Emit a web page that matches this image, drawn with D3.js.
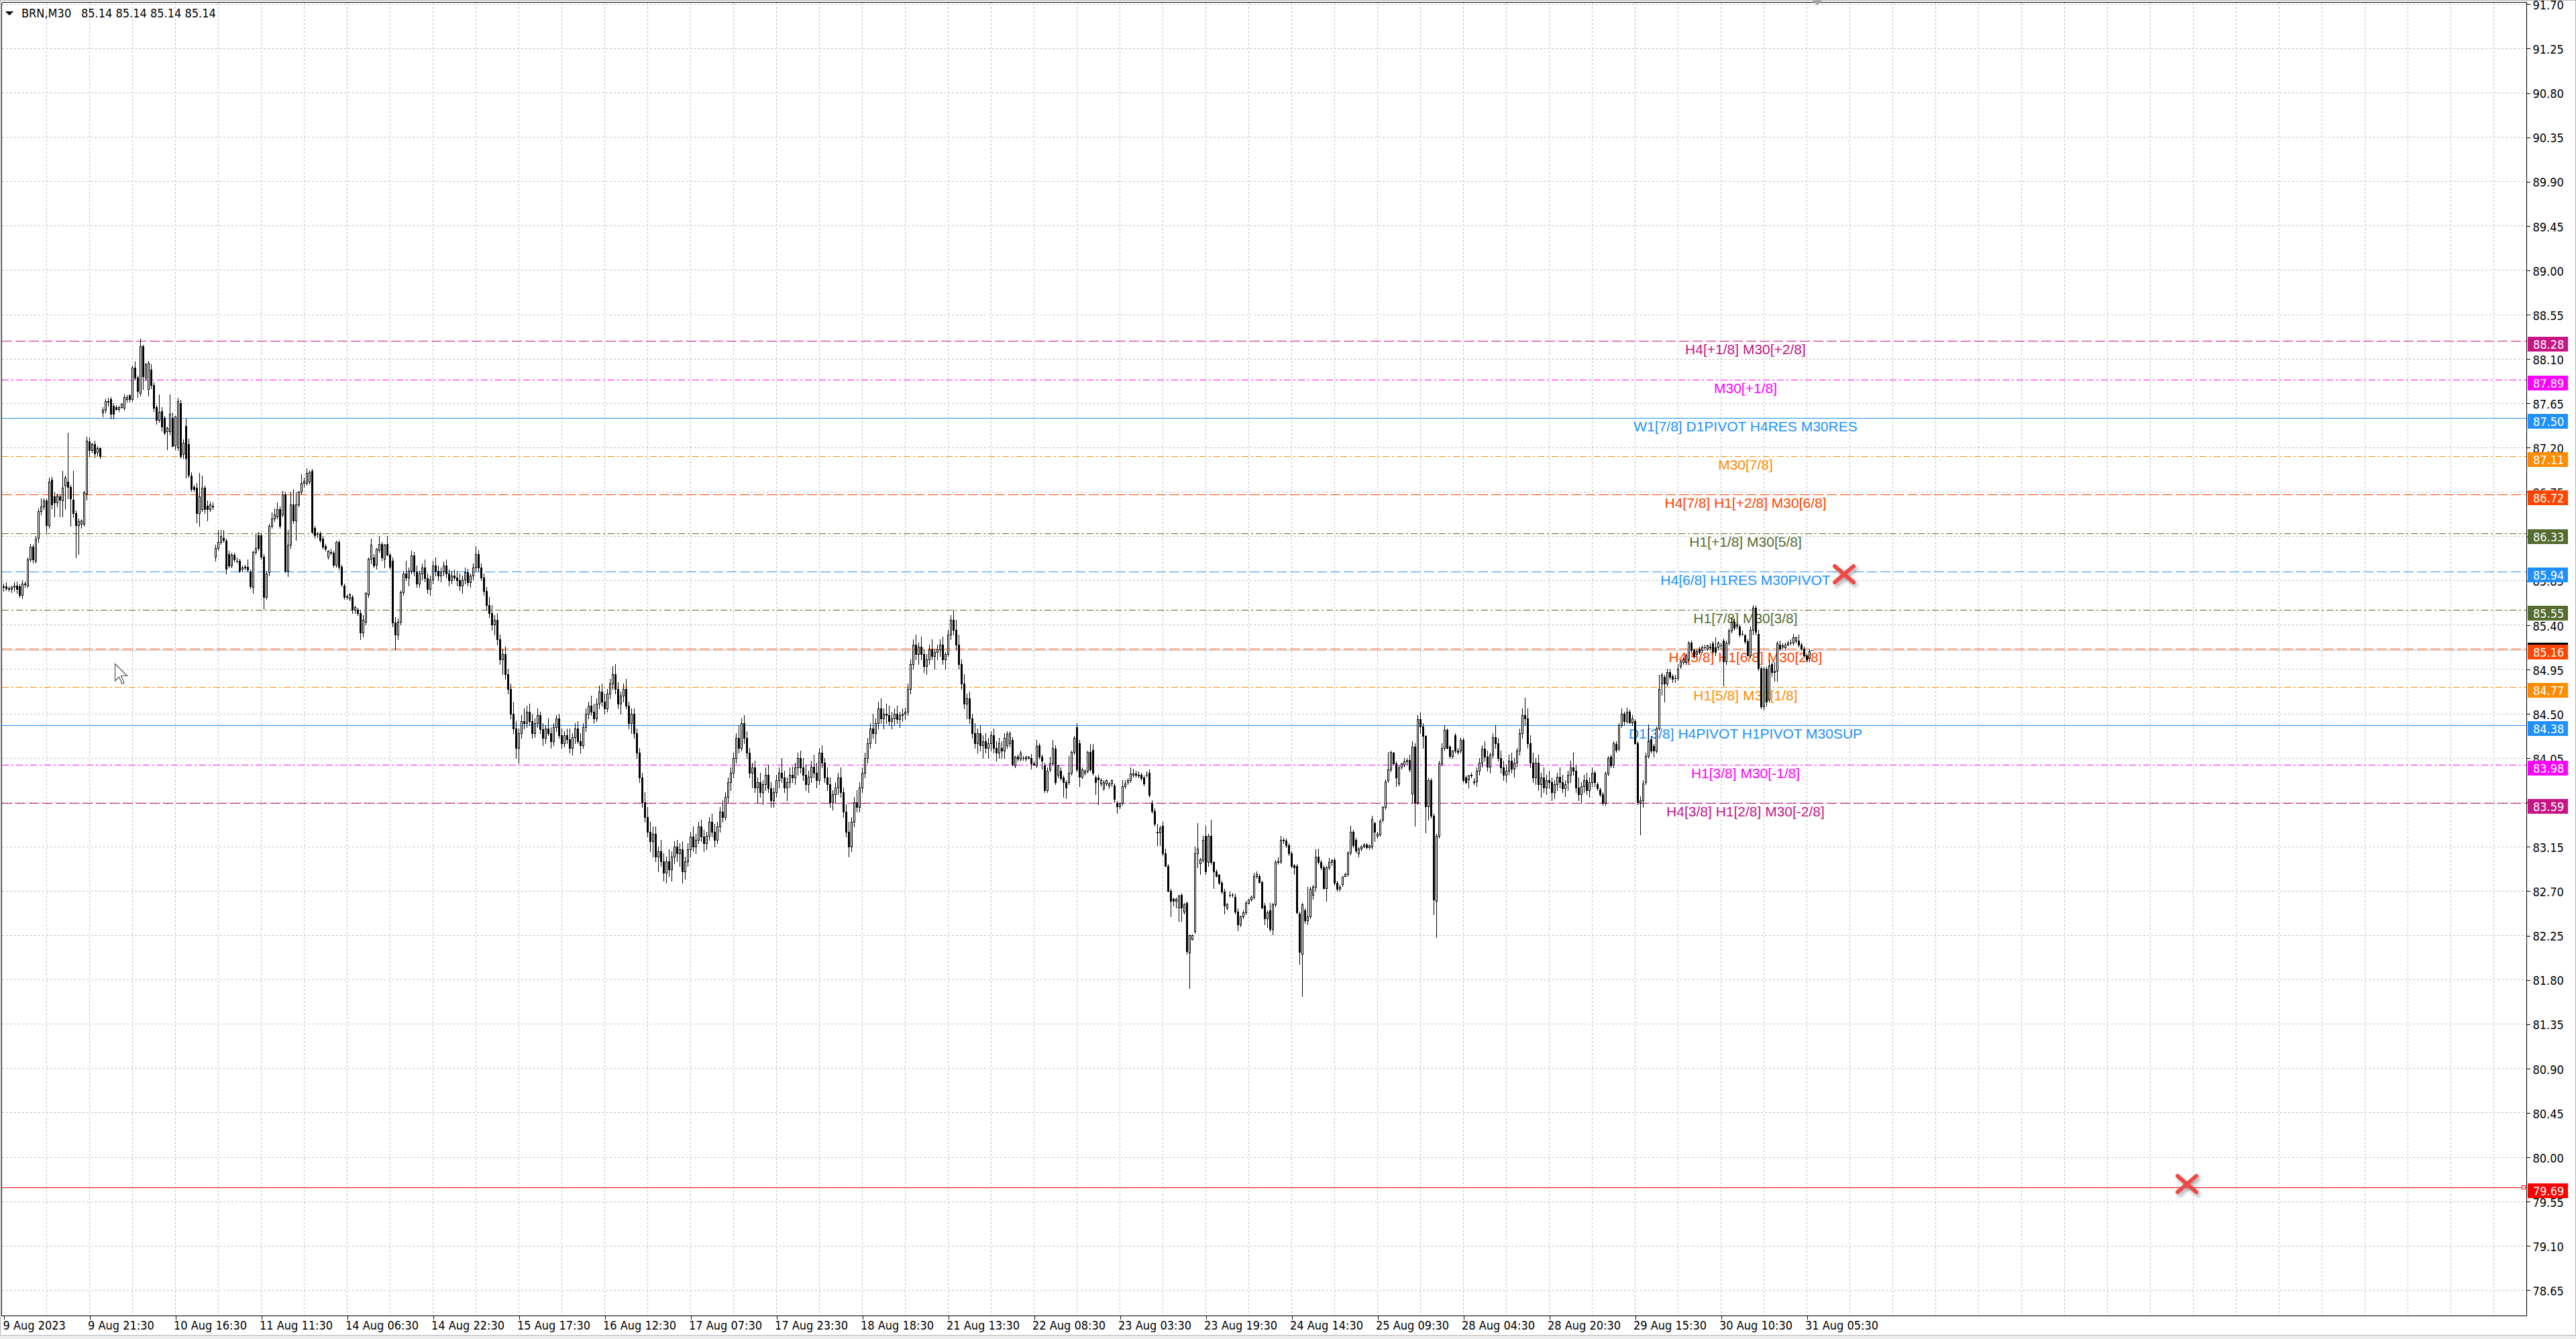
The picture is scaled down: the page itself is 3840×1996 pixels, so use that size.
<!DOCTYPE html>
<html>
<head>
<meta charset="utf-8">
<script src="https://cdn.jsdelivr.net/npm/d3@7/dist/d3.min.js"></script>
<style>
html,body{margin:0;padding:0;background:#ffffff;overflow:hidden;}
svg{display:block;}
.ui{font-family:"DejaVu Sans Condensed","DejaVu Sans",sans-serif;font-stretch:condensed;font-size:18px;}
.lvl{font-family:"Liberation Sans",Arial,sans-serif;font-size:21px;}
</style>
</head>
<body>
<svg id="chart" width="3840" height="1996" xmlns="http://www.w3.org/2000/svg"></svg>
<script>
// ---------------- DATA ----------------
const symbolTitle = "BRN,M30";
const lastQuote = "85.14 85.14 85.14 85.14";
const bidPrice = 85.14;

const opens = [
85.78,85.79,85.77,85.76,85.78,85.80,85.79,85.70,85.82,85.80,86.06,86.19,86.05,86.28,86.55,86.60,86.66,86.41,86.87,86.70,86.64,86.70,86.66,86.81,86.85,86.80,86.67,86.53,86.41,86.42,86.42,86.73,87.26,87.17,87.23,87.15,87.19,
87.55,87.58,87.67,87.69,87.62,87.61,87.59,87.61,87.60,87.69,87.73,87.69,88.01,87.91,87.75,88.23,87.91,87.79,87.99,87.83,87.61,87.48,87.57,87.50,87.36,87.36,87.50,87.22,87.20,87.65,87.13,87.42,87.23,86.91,86.80,86.79,86.53,86.57,86.79,86.61,86.57,86.60,
86.09,86.18,86.24,86.28,86.25,86.12,86.00,86.11,86.05,86.05,85.97,85.98,85.99,85.94,85.78,86.14,86.31,86.31,86.09,85.68,85.93,86.40,86.48,86.50,86.57,86.52,86.72,85.95,86.21,86.62,86.46,86.62,86.75,86.84,86.84,86.85,86.96,86.38,86.32,86.33,86.27,86.20,
86.09,86.14,86.13,86.01,86.24,85.99,85.80,85.68,85.67,85.68,85.55,85.55,85.52,85.32,85.43,85.71,86.07,86.08,86.01,86.16,86.22,86.07,86.22,86.11,86.05,85.42,85.30,85.43,85.73,85.92,85.88,85.95,86.10,85.94,85.82,85.92,85.98,85.87,85.76,85.86,86.00,85.95,85.90,85.94,86.00,85.92,85.85,85.90,
85.88,85.85,85.80,85.86,85.93,85.83,85.90,85.98,86.12,85.98,85.88,85.74,85.60,85.52,85.40,85.45,85.25,85.05,85.10,84.90,84.75,84.50,84.35,84.15,84.30,84.42,84.40,84.52,84.42,84.30,84.40,84.48,84.34,84.25,84.35,84.30,84.22,84.36,84.45,84.28,84.20,84.28,
84.24,84.15,84.26,84.35,84.22,84.18,84.36,84.50,84.58,84.52,84.45,84.60,84.72,84.62,84.55,84.70,84.80,84.90,84.75,84.60,84.68,84.75,84.58,84.40,84.50,84.30,84.10,83.85,83.60,83.45,83.30,83.20,83.28,83.05,83.10,83.00,82.88,83.00,82.92,83.05,83.15,83.08,
83.12,82.90,83.00,83.12,83.25,83.15,83.22,83.35,83.25,83.18,83.26,83.40,83.30,83.22,83.35,83.50,83.45,83.65,83.80,83.90,84.05,84.25,84.15,84.40,84.25,84.10,83.90,83.95,83.75,83.80,83.70,83.78,83.88,83.74,83.62,83.70,83.82,83.90,83.85,83.75,83.80,83.88,
83.85,83.95,84.05,83.95,83.88,83.78,83.86,83.96,83.90,83.82,84.10,84.00,83.85,83.78,83.60,83.68,83.75,83.85,83.70,83.50,83.30,83.15,83.40,83.60,83.55,83.75,83.90,84.05,84.20,84.35,84.30,84.40,84.55,84.45,84.50,84.48,84.42,84.45,84.50,84.44,84.48,84.50,
84.52,84.75,85.00,85.20,85.10,85.18,85.10,84.98,85.05,85.15,85.08,85.12,85.15,85.20,85.05,85.10,85.30,85.45,85.35,85.20,85.00,84.80,84.60,84.65,84.45,84.30,84.20,84.30,84.18,84.22,84.15,84.20,84.28,84.15,84.10,84.15,
84.12,84.18,84.20,84.23,83.97,84.06,84.04,84.05,84.04,84.05,84.05,83.99,83.97,84.18,84.06,83.97,83.72,83.93,83.99,84.14,83.88,83.92,83.85,83.80,83.80,83.90,84.11,84.36,84.20,83.86,83.90,83.92,84.11,84.13,83.85,83.85,83.79,83.74,83.79,83.77,83.79,83.77,
83.59,83.56,83.59,83.76,83.80,83.82,83.88,83.89,83.88,83.88,83.85,83.88,83.90,83.59,83.51,83.30,83.29,83.36,83.08,82.95,82.70,82.62,82.60,82.53,82.66,82.49,82.58,82.07,82.21,82.29,83.08,82.98,83.01,83.26,82.99,83.26,82.99,82.90,82.86,82.78,82.69,82.53,
82.66,82.66,82.64,82.49,82.36,82.44,82.48,82.58,82.61,82.64,82.85,82.85,82.79,82.55,82.42,82.50,82.31,82.56,82.99,83.00,83.22,83.21,83.16,83.08,82.96,82.95,82.47,82.06,82.50,82.40,82.44,82.66,82.74,83.05,82.99,82.94,82.73,82.94,82.99,83.01,82.78,82.72,
82.77,82.85,82.87,83.09,83.30,83.22,83.08,83.13,83.15,83.17,83.14,83.15,83.39,83.26,83.27,83.42,83.55,83.82,83.93,84.10,83.99,83.79,83.96,83.98,84.01,84.03,83.69,84.16,83.60,84.44,84.37,84.27,83.56,83.82,83.46,82.60,83.26,83.99,84.15,84.33,84.16,84.07,
84.28,84.12,84.12,84.23,83.85,83.83,83.87,83.80,83.81,83.92,84.00,84.14,84.06,83.96,84.08,84.26,84.20,84.05,83.95,83.88,83.92,84.02,83.94,84.00,84.12,84.30,84.48,84.45,84.20,84.00,83.85,84.00,83.78,83.85,83.75,83.82,83.80,83.70,83.78,83.86,83.80,83.74,
83.80,83.88,83.95,83.92,83.75,83.68,83.76,83.82,83.72,83.80,83.90,83.78,83.73,83.68,83.59,83.89,84.06,83.98,84.19,84.14,84.38,84.50,84.42,84.52,84.41,84.42,84.20,83.60,83.62,83.80,84.07,84.24,84.17,84.12,84.35,84.80,84.87,84.80,84.92,84.88,84.86,84.86,
84.98,85.02,85.02,85.05,85.22,85.14,85.10,85.16,85.14,85.17,85.16,85.18,85.21,85.17,85.17,85.19,85.24,85.03,85.22,85.34,85.43,85.39,85.38,85.31,85.29,85.23,85.09,85.35,85.57,85.31,84.96,84.57,84.95,84.64,85.00,84.92,84.93,85.20,85.18,85.17,85.20,85.22,85.22,85.24,85.24,85.20,85.16,85.09,85.06,85.14
];
const highs = [
85.82,85.83,85.79,85.80,85.83,85.84,85.81,85.85,85.84,86.08,86.22,86.21,86.30,86.58,86.68,86.68,86.68,86.89,86.90,86.74,86.73,86.72,86.96,86.91,87.35,86.82,86.96,86.56,86.48,86.47,86.76,87.31,87.30,87.25,87.27,87.21,87.20,
87.61,87.69,87.70,87.71,87.65,87.63,87.62,87.65,87.74,87.73,87.74,88.03,88.07,87.93,88.30,88.24,88.06,88.08,88.04,87.86,87.63,87.74,87.61,87.52,87.41,87.74,87.55,87.52,87.70,87.68,87.28,87.49,87.29,86.95,86.82,86.84,86.94,86.91,86.81,86.66,86.65,86.64,
86.21,86.36,86.36,86.36,86.27,86.15,86.13,86.13,86.08,86.07,86.00,86.01,86.06,85.96,86.15,86.32,86.34,86.33,86.12,85.95,86.42,86.54,86.58,86.64,86.60,86.76,86.75,86.36,86.75,86.78,86.74,86.76,86.93,86.89,86.99,86.97,86.98,86.40,86.34,86.35,86.30,86.22,
86.16,86.17,86.15,86.25,86.26,86.01,85.82,85.71,85.72,85.70,85.59,85.57,85.55,85.50,85.73,86.08,86.27,86.12,86.18,86.30,86.24,86.22,86.30,86.13,86.08,85.48,85.46,85.75,85.95,86.05,85.98,86.15,86.14,86.00,85.95,86.02,86.06,85.92,85.90,86.05,86.08,86.00,85.98,86.04,86.06,85.96,85.95,85.96,
85.95,85.92,85.90,85.98,85.97,85.92,86.02,86.20,86.16,86.02,85.92,85.78,85.68,85.60,85.50,85.52,85.30,85.15,85.18,84.95,84.80,84.62,84.42,84.35,84.48,84.55,84.58,84.60,84.50,84.45,84.55,84.52,84.40,84.38,84.45,84.36,84.40,84.48,84.50,84.35,84.32,84.35,
84.35,84.30,84.40,84.42,84.30,84.40,84.55,84.62,84.68,84.60,84.65,84.78,84.80,84.70,84.75,84.85,84.98,85.00,84.82,84.72,84.80,84.85,84.62,84.55,84.55,84.35,84.15,83.90,83.70,83.55,83.40,83.35,83.35,83.15,83.22,83.08,83.05,83.12,83.10,83.20,83.22,83.18,
83.20,83.05,83.18,83.30,83.35,83.28,83.40,83.42,83.32,83.30,83.45,83.48,83.38,83.40,83.55,83.62,83.70,83.85,83.95,84.10,84.30,84.38,84.45,84.48,84.32,84.15,84.00,84.02,83.85,83.90,83.82,83.95,83.98,83.80,83.75,83.88,83.95,84.05,83.92,83.85,83.95,83.96,
84.00,84.10,84.12,84.05,83.98,83.92,84.02,84.08,84.00,84.15,84.18,84.05,83.95,83.85,83.72,83.80,83.90,83.95,83.75,83.58,83.40,83.45,83.65,83.72,83.80,83.95,84.10,84.25,84.40,84.50,84.45,84.62,84.65,84.55,84.60,84.58,84.52,84.55,84.58,84.52,84.55,84.56,
84.80,85.05,85.25,85.30,85.22,85.28,85.15,85.10,85.20,85.25,85.15,85.20,85.25,85.28,85.12,85.35,85.50,85.55,85.45,85.30,85.05,84.90,84.70,84.72,84.50,84.40,84.35,84.38,84.28,84.30,84.25,84.32,84.35,84.22,84.25,84.22,
84.30,84.32,84.32,84.26,84.07,84.08,84.12,84.07,84.07,84.07,84.09,84.01,84.23,84.20,84.08,84.00,83.95,84.06,84.23,84.18,83.98,83.95,83.87,83.82,84.07,84.12,84.27,84.40,84.23,83.95,83.93,84.12,84.19,84.19,83.87,83.88,83.84,83.82,83.83,83.80,83.83,83.79,
83.61,83.60,83.82,83.82,83.84,83.95,83.94,83.92,83.91,83.90,83.87,83.91,83.93,83.62,83.54,83.38,83.36,83.40,83.13,82.97,82.72,82.63,82.63,82.66,82.67,82.58,82.59,82.26,82.26,83.15,83.39,83.03,83.26,83.36,83.28,83.42,83.00,82.92,82.87,82.80,82.72,82.58,
82.69,82.68,82.67,82.52,82.45,82.50,82.60,82.62,82.65,82.88,82.90,82.87,82.80,82.58,82.50,82.58,82.58,83.01,83.04,83.26,83.24,83.23,83.18,83.10,82.97,82.97,82.49,82.58,82.52,82.74,82.74,82.76,83.12,83.13,83.01,82.96,82.95,83.03,83.02,83.03,82.80,82.76,
82.85,82.88,83.10,83.36,83.32,83.24,83.14,83.16,83.18,83.18,83.17,83.46,83.40,83.30,83.43,83.56,83.83,84.11,84.12,84.11,84.01,83.97,84.00,84.05,84.05,84.08,84.22,84.20,84.48,84.51,84.40,84.28,83.84,83.84,83.48,83.28,84.02,84.20,84.38,84.35,84.18,84.13,
84.30,84.15,84.25,84.25,83.87,83.88,83.90,83.84,83.95,84.05,84.18,84.22,84.12,84.10,84.30,84.38,84.25,84.12,84.02,83.98,84.08,84.10,84.05,84.15,84.35,84.55,84.66,84.55,84.28,84.10,84.05,84.08,83.90,83.95,83.88,83.92,83.85,83.82,83.90,83.95,83.88,83.82,
83.92,84.02,84.10,83.98,83.85,83.80,83.88,83.90,83.85,83.95,83.92,83.80,83.75,83.70,83.91,84.07,84.08,84.22,84.22,84.40,84.55,84.52,84.56,84.54,84.48,84.44,84.22,83.66,83.82,84.10,84.39,84.27,84.19,84.37,84.89,84.91,84.89,84.95,84.95,84.90,84.89,85.00,
85.04,85.07,85.11,85.23,85.24,85.16,85.15,85.18,85.19,85.20,85.20,85.21,85.23,85.27,85.23,85.22,85.26,85.24,85.36,85.48,85.46,85.42,85.40,85.34,85.31,85.25,85.38,85.60,85.59,85.35,84.98,84.97,84.97,85.04,85.02,85.02,85.23,85.24,85.21,85.22,85.24,85.25,85.31,85.28,85.30,85.22,85.18,85.11,85.15,85.14
];
const lows = [
85.74,85.75,85.74,85.73,85.74,85.72,85.68,85.67,85.78,85.78,86.04,86.03,86.03,86.24,86.52,86.57,86.34,86.38,86.58,86.50,86.60,86.50,86.50,86.58,86.68,86.40,86.49,86.08,86.12,86.38,86.40,86.67,87.11,87.15,87.10,87.12,87.09,
87.51,87.55,87.62,87.49,87.49,87.58,87.57,87.60,87.58,87.66,87.66,87.67,87.89,87.71,87.72,87.79,87.88,87.72,87.80,87.57,87.44,87.46,87.37,87.33,87.18,87.33,87.21,87.18,87.17,87.09,87.09,86.89,86.90,86.76,86.76,86.44,86.40,86.55,86.53,86.46,86.55,86.57,
86.05,86.16,86.22,86.24,85.92,85.98,85.98,86.04,86.03,85.93,85.94,85.96,85.94,85.77,85.72,86.12,86.16,86.07,85.56,85.66,85.90,86.38,86.45,86.48,86.38,86.50,85.93,85.89,86.18,86.43,86.26,86.60,86.73,86.80,86.82,86.83,86.33,86.28,86.29,86.24,86.17,86.15,
86.07,86.11,85.99,85.99,85.96,85.79,85.66,85.66,85.65,85.52,85.52,85.50,85.25,85.28,85.40,85.68,86.02,85.98,85.97,86.14,86.05,85.98,86.10,85.97,85.38,85.15,85.25,85.40,85.70,85.85,85.80,85.92,85.90,85.78,85.78,85.86,85.84,85.72,85.70,85.82,85.90,85.85,85.84,85.90,85.88,85.80,85.82,85.86,
85.80,85.75,85.72,85.82,85.80,85.78,85.86,85.94,85.95,85.85,85.70,85.55,85.48,85.35,85.30,85.20,85.00,84.90,84.85,84.70,84.45,84.30,84.05,84.00,84.25,84.35,84.36,84.38,84.25,84.26,84.36,84.30,84.18,84.20,84.28,84.15,84.18,84.32,84.25,84.15,84.16,84.20,
84.10,84.08,84.20,84.20,84.10,84.15,84.32,84.45,84.48,84.40,84.42,84.55,84.58,84.50,84.52,84.65,84.75,84.70,84.55,84.50,84.62,84.55,84.35,84.30,84.25,84.05,83.80,83.55,83.40,83.25,83.10,83.05,83.00,82.90,82.95,82.80,82.78,82.85,82.80,82.98,83.00,82.95,
82.78,82.82,82.95,83.05,83.10,83.08,83.18,83.20,83.10,83.12,83.22,83.25,83.15,83.18,83.30,83.40,83.42,83.60,83.72,83.85,84.00,84.10,84.12,84.20,84.05,83.85,83.75,83.70,83.60,83.65,83.58,83.72,83.70,83.55,83.55,83.65,83.75,83.80,83.70,83.62,83.75,83.80,
83.78,83.88,83.90,83.82,83.72,83.70,83.80,83.85,83.75,83.78,83.95,83.80,83.72,83.55,83.52,83.60,83.68,83.65,83.45,83.25,83.05,83.10,83.35,83.50,83.50,83.70,83.85,84.00,84.15,84.25,84.20,84.35,84.40,84.35,84.40,84.38,84.35,84.38,84.40,84.36,84.42,84.44,
84.48,84.70,84.95,85.05,85.00,85.05,84.92,84.90,85.00,85.05,84.95,85.05,85.08,85.00,84.95,85.08,85.25,85.30,85.15,84.95,84.75,84.55,84.45,84.40,84.25,84.15,84.10,84.12,84.05,84.10,84.05,84.12,84.10,84.02,84.05,84.05,
84.05,84.15,84.16,83.97,83.95,84.02,84.02,84.03,84.02,84.04,83.94,83.97,83.95,84.04,83.94,83.70,83.70,83.91,83.97,83.78,83.85,83.82,83.65,83.64,83.78,83.88,84.09,83.91,83.76,83.84,83.88,83.90,83.92,83.88,83.68,83.58,83.77,83.72,83.77,83.74,83.76,83.60,
83.49,83.54,83.57,83.74,83.78,83.80,83.86,83.86,83.85,83.82,83.77,83.86,83.65,83.49,83.36,83.16,83.16,83.06,82.95,82.69,82.44,82.55,82.53,82.39,82.39,82.47,82.06,81.71,82.20,82.27,82.94,82.87,82.99,82.87,82.95,82.97,82.73,82.84,82.77,82.67,82.47,82.51,
82.64,82.64,82.47,82.30,82.34,82.42,82.46,82.57,82.60,82.62,82.83,82.78,82.52,82.36,82.33,82.29,82.26,82.54,82.97,82.98,83.18,83.14,83.06,82.94,82.87,82.47,81.96,81.63,82.37,82.36,82.42,82.62,82.70,82.97,82.92,82.72,82.60,82.92,82.96,82.76,82.70,82.70,
82.75,82.84,82.85,83.07,83.14,83.09,83.05,83.11,83.14,83.13,83.12,83.13,83.20,83.24,83.26,83.40,83.53,83.80,83.91,83.98,83.76,83.77,83.94,83.96,83.98,83.91,83.60,83.36,83.58,84.30,84.15,83.29,83.42,83.44,82.46,82.23,83.24,83.97,84.13,84.14,84.05,84.05,
84.10,84.09,84.10,83.80,83.79,83.75,83.85,83.78,83.76,83.88,83.96,84.02,83.92,83.90,84.05,84.15,84.02,83.90,83.82,83.80,83.88,83.90,83.86,83.96,84.08,84.25,84.38,84.15,83.95,83.80,83.78,83.72,83.65,83.70,83.68,83.74,83.62,83.64,83.72,83.75,83.70,83.66,
83.72,83.80,83.88,83.70,83.62,83.60,83.70,83.68,83.65,83.76,83.76,83.72,83.66,83.57,83.57,83.87,83.95,83.95,84.11,84.12,84.36,84.38,84.40,84.40,84.38,84.19,83.58,83.27,83.55,83.78,84.05,84.10,84.06,84.10,84.33,84.69,84.62,84.78,84.85,84.82,84.82,84.84,
84.96,85.00,85.00,85.03,85.12,85.06,85.08,85.10,85.12,85.15,85.14,85.15,85.11,85.09,85.15,85.16,84.78,85.00,85.20,85.32,85.35,85.36,85.28,85.29,85.21,85.08,85.07,85.30,85.30,84.94,84.55,84.54,84.58,84.62,84.88,84.83,84.83,85.14,85.16,85.15,85.19,85.20,85.20,85.22,85.18,85.14,85.08,85.03,85.03,85.14
];
const closes = [
85.79,85.77,85.76,85.78,85.80,85.76,85.70,85.82,85.81,86.06,86.19,86.06,86.27,86.55,86.60,86.66,86.41,86.85,86.62,86.64,86.71,86.67,86.79,86.89,86.80,86.68,86.53,86.41,86.45,86.46,86.74,87.27,87.17,87.23,87.14,87.19,87.11,
87.58,87.67,87.66,87.54,87.54,87.59,87.61,87.64,87.71,87.71,87.69,88.01,87.91,87.77,88.23,87.92,88.04,88.06,87.83,87.60,87.48,87.56,87.41,87.35,87.40,87.54,87.21,87.51,87.67,87.11,87.25,87.09,86.92,86.78,86.78,86.53,86.70,86.79,86.57,86.57,86.62,86.61,
86.18,86.24,86.30,86.26,85.97,86.00,86.11,86.06,86.05,85.95,85.98,85.99,85.96,85.79,86.14,86.18,86.18,86.09,85.68,85.92,86.40,86.48,86.52,86.57,86.40,86.72,85.95,86.21,86.62,86.46,86.62,86.75,86.84,86.86,86.94,86.95,86.34,86.31,86.32,86.26,86.19,86.17,
86.15,86.13,86.01,86.24,85.99,85.81,85.68,85.69,85.71,85.55,85.58,85.52,85.32,85.45,85.72,86.07,86.21,86.00,86.17,86.22,86.08,86.21,86.11,85.99,85.42,85.30,85.43,85.73,85.92,85.88,85.95,86.10,85.94,85.82,85.92,85.98,85.87,85.76,85.86,86.00,85.95,85.90,85.94,86.00,85.92,85.85,85.90,85.88,
85.85,85.80,85.86,85.93,85.83,85.90,85.98,86.12,85.98,85.88,85.74,85.60,85.52,85.40,85.45,85.25,85.05,85.10,84.90,84.75,84.50,84.35,84.15,84.30,84.42,84.40,84.52,84.42,84.30,84.40,84.48,84.34,84.25,84.35,84.30,84.22,84.36,84.45,84.28,84.20,84.28,84.24,
84.15,84.26,84.35,84.22,84.18,84.36,84.50,84.58,84.52,84.45,84.60,84.72,84.62,84.55,84.70,84.80,84.90,84.75,84.60,84.68,84.75,84.58,84.40,84.50,84.30,84.10,83.85,83.60,83.45,83.30,83.20,83.28,83.05,83.10,83.00,82.88,83.00,82.92,83.05,83.15,83.08,83.12,
82.90,83.00,83.12,83.25,83.15,83.22,83.35,83.25,83.18,83.26,83.40,83.30,83.22,83.35,83.50,83.45,83.65,83.80,83.90,84.05,84.25,84.15,84.40,84.25,84.10,83.90,83.95,83.75,83.80,83.70,83.78,83.88,83.74,83.62,83.70,83.82,83.90,83.85,83.75,83.80,83.88,83.85,
83.95,84.05,83.95,83.88,83.78,83.86,83.96,83.90,83.82,84.10,84.00,83.85,83.78,83.60,83.68,83.75,83.85,83.70,83.50,83.30,83.15,83.40,83.60,83.55,83.75,83.90,84.05,84.20,84.35,84.30,84.40,84.55,84.45,84.50,84.48,84.42,84.45,84.50,84.44,84.48,84.50,84.52,
84.75,85.00,85.20,85.10,85.18,85.10,84.98,85.05,85.15,85.08,85.12,85.15,85.20,85.05,85.10,85.30,85.45,85.35,85.20,85.00,84.80,84.60,84.65,84.45,84.30,84.20,84.30,84.18,84.22,84.15,84.20,84.28,84.15,84.10,84.20,84.12,
84.25,84.29,84.30,83.98,84.06,84.04,84.10,84.05,84.06,84.06,83.99,83.98,84.17,84.06,84.02,83.72,83.92,83.99,84.15,83.80,83.97,83.84,83.80,83.75,83.90,84.11,84.25,83.93,83.86,83.93,83.92,84.11,83.93,83.90,83.80,83.83,83.82,83.80,83.82,83.79,83.82,83.63,
83.56,83.59,83.76,83.79,83.82,83.89,83.89,83.88,83.87,83.84,83.79,83.88,83.67,83.51,83.38,83.29,83.34,83.08,82.95,82.70,82.60,82.60,82.62,82.65,82.53,82.56,82.09,82.25,82.25,83.08,83.13,83.02,83.22,82.90,83.26,82.99,82.90,82.85,82.78,82.69,82.55,82.56,
82.66,82.66,82.49,82.36,82.44,82.48,82.58,82.61,82.64,82.85,82.87,82.79,82.53,82.42,82.48,82.31,82.56,82.99,83.00,83.22,83.21,83.16,83.08,82.95,82.94,82.48,82.08,82.56,82.40,82.44,82.72,82.74,83.05,82.99,82.94,82.73,82.94,82.99,83.01,82.78,82.72,82.74,
82.84,82.87,83.09,83.30,83.16,83.11,83.13,83.15,83.17,83.14,83.16,83.43,83.30,83.28,83.41,83.55,83.81,83.93,84.11,83.99,83.85,83.95,83.99,84.01,84.03,83.93,84.16,83.60,84.44,84.37,84.27,83.56,83.82,83.46,82.61,83.26,83.99,84.15,84.33,84.15,84.07,84.12,
84.12,84.11,84.23,83.82,83.80,83.87,83.88,83.81,83.92,84.00,84.14,84.06,83.96,84.08,84.26,84.20,84.05,83.95,83.88,83.92,84.02,83.94,84.00,84.12,84.30,84.48,84.45,84.20,84.00,83.85,84.00,83.78,83.85,83.75,83.82,83.80,83.70,83.78,83.86,83.80,83.74,83.78,
83.88,83.95,83.92,83.75,83.68,83.76,83.82,83.72,83.80,83.90,83.80,83.74,83.68,83.59,83.89,84.05,83.97,84.20,84.13,84.38,84.50,84.42,84.52,84.41,84.45,84.20,83.60,83.62,83.79,84.07,84.22,84.12,84.12,84.35,84.75,84.89,84.80,84.92,84.87,84.85,84.86,84.95,
85.03,85.05,85.09,85.22,85.14,85.08,85.13,85.12,85.17,85.17,85.19,85.17,85.13,85.12,85.22,85.19,85.03,85.22,85.34,85.43,85.37,85.40,85.30,85.31,85.23,85.09,85.35,85.57,85.33,84.96,84.57,84.95,84.62,84.99,84.92,84.93,85.21,85.16,85.19,85.20,85.22,85.22,85.27,85.27,85.20,85.16,85.09,85.05,85.13,85.14
];

// time-axis labels (one every 32 bars)
const xLabels = ["9 Aug 2023","9 Aug 21:30","10 Aug 16:30","11 Aug 11:30","14 Aug 06:30","14 Aug 22:30","15 Aug 17:30","16 Aug 12:30","17 Aug 07:30","17 Aug 23:30","18 Aug 18:30","21 Aug 13:30","22 Aug 08:30","23 Aug 03:30","23 Aug 19:30","24 Aug 14:30","25 Aug 09:30","28 Aug 04:30","28 Aug 20:30","29 Aug 15:30","30 Aug 10:30","31 Aug 05:30"];
// price-axis tick labels
const yTicks = [78.65,79.10,79.55,80.00,80.45,80.90,81.35,81.80,82.25,82.70,83.15,83.60,84.05,84.50,84.95,85.40,85.85,86.30,86.75,87.20,87.65,88.10,88.55,89.00,89.45,89.90,90.35,90.80,91.25,91.70];
// horizontal levels
const levelPrices = [88.28,87.89,87.50,87.11,86.72,86.33,85.94,85.55,85.16,84.77,84.38,83.98,83.59,79.69];
const levelTexts = ["H4[+1/8] M30[+2/8]","M30[+1/8]","W1[7/8] D1PIVOT H4RES M30RES","M30[7/8]","H4[7/8] H1[+2/8] M30[6/8]","H1[+1/8] M30[5/8]","H4[6/8] H1RES M30PIVOT","H1[7/8] M30[3/8]","H4[5/8] H1[6/8] M30[2/8]","H1[5/8] M30[1/8]","D1[3/8] H4PIVOT H1PIVOT M30SUP","H1[3/8] M30[-1/8]","H4[3/8] H1[2/8] M30[-2/8]",""];

// ---------------- STYLES ----------------
const C_MVR="#C71585", C_MAG="#FF00FF", C_BLUE="#1E90FF", C_DORG="#FF8C00", C_ORED="#FF4500", C_OLIVE="#556B2F", C_RED="#FF0000";
const levelStyles = [
  {color:C_MVR,kind:"dash"},{color:C_MAG,kind:"dashdot"},{color:C_BLUE,kind:"solid"},{color:C_DORG,kind:"dashdot"},
  {color:C_ORED,kind:"dash"},{color:C_OLIVE,kind:"dashdot"},{color:C_BLUE,kind:"dash"},{color:C_OLIVE,kind:"dashdot"},
  {color:C_ORED,kind:"dash"},{color:C_DORG,kind:"dashdot"},{color:C_BLUE,kind:"solid"},{color:C_MAG,kind:"dashdot"},
  {color:C_MVR,kind:"dash"},{color:C_RED,kind:"solid"}
];
const dashes = {dash:"15,5", dashdot:"10,4,3,4", solid:null};

// ---------------- DRAW ----------------
const W=3840, H=1996, L=2.5, R=3766.5, T=3.5, B=1961.5;
const n = Math.min(opens.length, highs.length, lows.length, closes.length);
const svg = d3.select("#chart");
const x = d3.scaleLinear().domain([0,1]).range([5.5,9.5]);           // bar index -> px (4 px per bar)
const y = d3.scaleLinear().domain([79.69,88.28]).range([1770.6,508.73]); // price -> px
const py = v => Math.floor(y(v));

const defs = svg.append("defs");
defs.append("clipPath").attr("id","plotclip").append("rect").attr("x",L).attr("y",T).attr("width",R-L).attr("height",B-T);
const f = defs.append("filter").attr("id","shadow").attr("x","-50%").attr("y","-50%").attr("width","200%").attr("height","200%");
f.append("feGaussianBlur").attr("stdDeviation",2.5);

svg.append("rect").attr("width",W).attr("height",H).attr("fill","#ffffff");
svg.append("rect").attr("x",0).attr("y",1991).attr("width",W).attr("height",5).attr("fill","#ececec");
svg.append("line").attr("x1",0).attr("x2",W).attr("y1",1990.5).attr("y2",1990.5).attr("stroke","#c8c8c8");
svg.append("rect").attr("x",0.5).attr("y",0.5).attr("width",W-1).attr("height",1990).attr("fill","none").attr("stroke","#b4b4b4");

const plot = svg.append("g").attr("clip-path","url(#plotclip)");

// grid
const grid = plot.append("g").attr("stroke","#c0c0c0").attr("stroke-dasharray","3,3").attr("shape-rendering","crispEdges");
grid.selectAll("line.h").data(yTicks).join("line").attr("class","h")
  .attr("x1",L).attr("x2",R).attr("y1",d=>py(d)+0.5).attr("y2",d=>py(d)+0.5);
grid.selectAll("line.v").data(d3.range(1,59)).join("line").attr("class","v")
  .attr("x1",k=>Math.floor(x(16*k))+0.5).attr("x2",k=>Math.floor(x(16*k))+0.5).attr("y1",T).attr("y2",B);

// level lines
plot.append("g").attr("shape-rendering","crispEdges").selectAll("line").data(levelPrices).join("line")
  .attr("x1",L).attr("x2",R).attr("y1",d=>py(d)+0.5).attr("y2",d=>py(d)+0.5)
  .attr("stroke",(d,i)=>levelStyles[i].color).attr("stroke-width",1)
  .attr("stroke-dasharray",(d,i)=>dashes[levelStyles[i].kind]);
// bid line
plot.append("line").attr("x1",L).attr("x2",R).attr("y1",py(bidPrice)+0.5).attr("y2",py(bidPrice)+0.5)
  .attr("stroke","#c0c0c0").attr("shape-rendering","crispEdges");

// level text labels
plot.append("g").selectAll("text").data(levelPrices).join("text").attr("class","lvl")
  .attr("x",2602).attr("y",d=>py(d)+20).attr("text-anchor","middle")
  .attr("fill",(d,i)=>levelStyles[i].color).text((d,i)=>levelTexts[i]);

// candles
const idx = d3.range(n);
const cg = plot.append("g").attr("shape-rendering","crispEdges");
cg.selectAll("rect.wick").data(idx).join("rect").attr("class","wick")
  .attr("x",i=>Math.floor(x(i))).attr("width",1)
  .attr("y",i=>py(highs[i])).attr("height",i=>py(lows[i])-py(highs[i])+1).attr("fill","#000");
cg.selectAll("rect.body").data(idx).join("rect").attr("class","body")
  .attr("x",i=>Math.floor(x(i))-1).attr("width",3)
  .attr("y",i=>py(Math.max(opens[i],closes[i])))
  .attr("height",i=>py(Math.min(opens[i],closes[i]))-py(Math.max(opens[i],closes[i]))+1).attr("fill","#000");
const bullIdx = idx.filter(i=>closes[i]>opens[i] && py(opens[i])-py(closes[i])>=2);
cg.selectAll("rect.hollow").data(bullIdx).join("rect").attr("class","hollow")
  .attr("x",i=>Math.floor(x(i))).attr("width",1)
  .attr("y",i=>py(closes[i])+1).attr("height",i=>py(opens[i])-py(closes[i])-1).attr("fill","#fff");

// small square at the end of the red line
plot.append("rect").attr("x",3759.5).attr("y",py(79.69)-2.5).attr("width",5).attr("height",5)
  .attr("fill","#fff").attr("stroke",C_RED).attr("shape-rendering","crispEdges");

// red X markers
function xMark(cx,cy){
  const g = svg.append("g");
  const arms = [[-14,-12,14,12],[14,-12,-14,12]];
  arms.forEach(a=>g.append("line").attr("x1",cx+a[0]+3).attr("y1",cy+a[1]+4).attr("x2",cx+a[2]+3).attr("y2",cy+a[3]+4)
     .attr("stroke","#7a7a7a").attr("stroke-width",6).attr("stroke-linecap","round").attr("opacity",0.6).attr("filter","url(#shadow)"));
  arms.forEach(a=>g.append("line").attr("x1",cx+a[0]).attr("y1",cy+a[1]).attr("x2",cx+a[2]).attr("y2",cy+a[3])
     .attr("stroke","#F04848").attr("stroke-width",6).attr("stroke-linecap","round"));
}
xMark(2749, py(85.94)+4);
xMark(3260, py(79.69)-5);

// frame
const fr = svg.append("g").attr("stroke","#000").attr("shape-rendering","crispEdges");
fr.append("line").attr("x1",L).attr("x2",L).attr("y1",T).attr("y2",B);
fr.append("line").attr("x1",L).attr("x2",R).attr("y1",T).attr("y2",T);
fr.append("line").attr("x1",R).attr("x2",R).attr("y1",T).attr("y2",B);
fr.append("line").attr("x1",L).attr("x2",R).attr("y1",B).attr("y2",B);

// price axis
const yAxis = d3.axisRight(y).tickValues(yTicks).tickSize(5).tickPadding(4).tickFormat(d3.format(".2f"));
const ya = svg.append("g").attr("transform",`translate(${R},0)`).call(yAxis);
ya.select(".domain").remove();
ya.attr("font-family",null).attr("font-size",null).attr("class","ui");
ya.selectAll("line").attr("shape-rendering","crispEdges");
ya.selectAll("text").attr("dy","0.4em").attr("fill","#000");

// level price boxes
const lb = svg.append("g");
levelPrices.forEach((p,i)=>{
  const yy = py(p);
  lb.append("rect").attr("x",3768).attr("y",yy-6).attr("width",60).attr("height",22).attr("fill",levelStyles[i].color);
  lb.append("text").attr("class","ui").attr("x",3776).attr("y",yy+12).attr("fill","#fff").text(d3.format(".2f")(p));
});
// bid label edge peeking above
lb.append("rect").attr("x",3768).attr("y",py(85.16)-9).attr("width",60).attr("height",3).attr("fill","#000");

// time axis
const xAxis = d3.axisBottom(x).tickValues(d3.range(xLabels.length).map(k=>32*k)).tickSize(5).tickFormat((d,i)=>xLabels[i]);
const xa = svg.append("g").attr("transform",`translate(0,${B})`).call(xAxis);
xa.select(".domain").remove();
xa.attr("font-family",null).attr("font-size",null).attr("class","ui");
xa.selectAll("line").attr("shape-rendering","crispEdges");
xa.selectAll("text").attr("text-anchor","start").attr("x",(d,i)=>i===0?-1.5:-3).attr("y",20.5).attr("dy",null).attr("fill","#000");

// title
svg.append("path").attr("d","M8,17 L20,17 L14,23 Z").attr("fill","#000");
svg.append("text").attr("class","ui").attr("x",32).attr("y",26).attr("fill","#000").text(symbolTitle);
svg.append("text").attr("class","ui").attr("x",121).attr("y",26).attr("fill","#000").text(lastQuote);

// chart shift marker
svg.append("path").attr("d","M2702,1 L2716,1 L2709,8 Z").attr("fill","#a0a0a0");

// mouse cursor
svg.append("path").attr("transform","translate(171.5,989.5) scale(1.5)")
  .attr("d","M0,0 L0,17 L4,13 L7,20 L9,19 L6,12 L12,12 Z")
  .attr("fill","#fff").attr("stroke","#555").attr("stroke-width",0.8);
</script>
</body>
</html>
